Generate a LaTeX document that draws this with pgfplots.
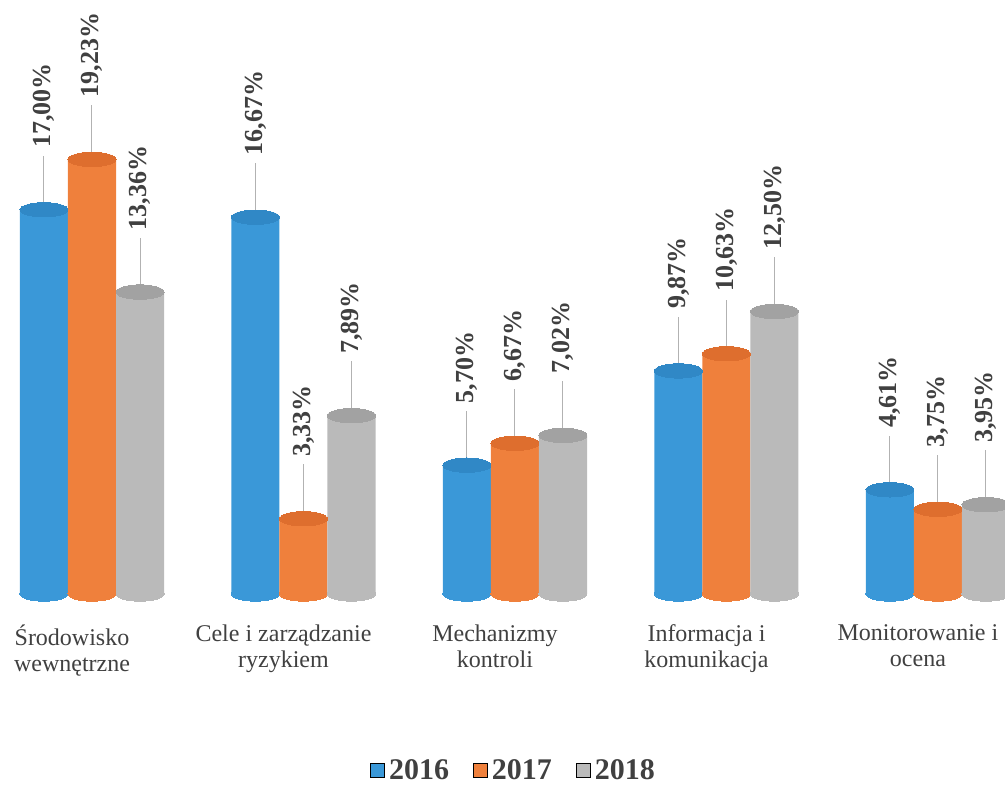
\documentclass[border=0pt]{standalone}
\usepackage{pgfplots}
\usepackage{pgfplotstable}
\pgfplotsset{compat=1.18}
\usepackage{fontspec}
\setmainfont{Liberation Serif}

\definecolor{cblue}{RGB}{58,152,216}
\definecolor{cblueD}{RGB}{52,140,204}
\definecolor{cblueT}{RGB}{48,136,198}
\definecolor{corange}{RGB}{239,128,60}
\definecolor{corangeD}{RGB}{230,116,50}
\definecolor{corangeT}{RGB}{222,110,46}
\definecolor{cgray}{RGB}{186,186,186}
\definecolor{cgrayD}{RGB}{172,172,172}
\definecolor{cgrayT}{RGB}{162,162,162}
\definecolor{labgray}{RGB}{64,64,64}

\pgfplotstableread{
x y lab
0 17.00 17,00\%
1 16.67 16,67\%
2 5.70 5,70\%
3 9.87 9,87\%
4 4.61 4,61\%
}\dataA
\pgfplotstableread{
x y lab
0 19.23 19,23\%
1 3.33 3,33\%
2 6.67 6,67\%
3 10.63 10,63\%
4 3.75 3,75\%
}\dataB
\pgfplotstableread{
x y lab
0 13.36 13,36\%
1 7.89 7,89\%
2 7.02 7,02\%
3 12.50 12,50\%
4 3.95 3,95\%
}\dataC

\pgfplotsset{
  cyl/.style={ybar, bar width=0.227, bar shift=0pt, draw=none, fill=#1, forget plot},
  base/.style={only marks, mark=*, mark size=12pt, forget plot,
     mark options={yscale=0.3, draw=#1, line width=0pt, fill=#1}},
  top/.style={only marks, mark=*, mark size=12pt, forget plot,
     mark options={yscale=0.3, draw=#1, line width=0pt, fill=#1},
     nodes near coords, point meta=explicit symbolic,
     every node near coord/.append style={font=\bfseries\fontsize{13}{15}\selectfont,
        text=labgray, yshift=30pt, rotate=90, anchor=west, inner sep=1pt},
     error bars/.cd, y dir=plus, y fixed=2.4, error mark=none,
     error bar style={draw=gray!60, line width=0.5pt}},
}

\begin{document}
\begin{tikzpicture}
\clip (0,0) rectangle (502.5pt,392.5pt);
\begin{axis}[
  at={(0pt,95.5pt)}, anchor=south west,
  scale only axis, width=502.5pt, height=282.5pt,
  xmin=-0.435, xmax=4.317, ymin=0, ymax=25,
  clip=false,
  axis line style={draw=none},
  major tick length=0pt,
  ytick=\empty,
  xtick={0,1,2,3,4},
  xticklabels={Środowisko\\wewnętrzne, Cele i zarządzanie\\ryzykiem, Mechanizmy\\kontroli, Informacja i\\komunikacja, Monitorowanie i\\ocena},
  xticklabel style={font=\fontsize{12}{13}\selectfont, text=labgray, align=center, yshift=-12pt, xshift=-10pt},
  legend style={draw=none, fill=none, at={(0.512,-0.313)}, anchor=center, legend columns=-1,
     font=\bfseries\fontsize{15}{16}\selectfont, text=labgray,
     /tikz/every even column/.append style={column sep=10pt}},
  legend image code/.code={\fill[#1] (0pt,-3.5pt) rectangle (7pt,3.5pt);},
]
% 2016
\addplot[base=cblue] table[x expr=\thisrow{x}-0.227, y expr=0] {\dataA};
\addplot[cyl=cblue] table[x expr=\thisrow{x}-0.227, y=y] {\dataA};
\addplot[top=cblueT] table[x expr=\thisrow{x}-0.227, y=y, meta=lab] {\dataA};
% 2017
\addplot[base=corange] table[x=x, y expr=0] {\dataB};
\addplot[cyl=corange] table[x=x, y=y] {\dataB};
\addplot[top=corangeT] table[x=x, y=y, meta=lab] {\dataB};
% 2018
\addplot[base=cgray] table[x expr=\thisrow{x}+0.227, y expr=0] {\dataC};
\addplot[cyl=cgray] table[x expr=\thisrow{x}+0.227, y=y] {\dataC};
\addplot[top=cgrayT] table[x expr=\thisrow{x}+0.227, y=y, meta=lab] {\dataC};

\addlegendimage{fill=cblue}
\addlegendentry{2016}
\addlegendimage{fill=corange}
\addlegendentry{2017}
\addlegendimage{fill=cgray}
\addlegendentry{2018}
\end{axis}
\end{tikzpicture}
\end{document}
